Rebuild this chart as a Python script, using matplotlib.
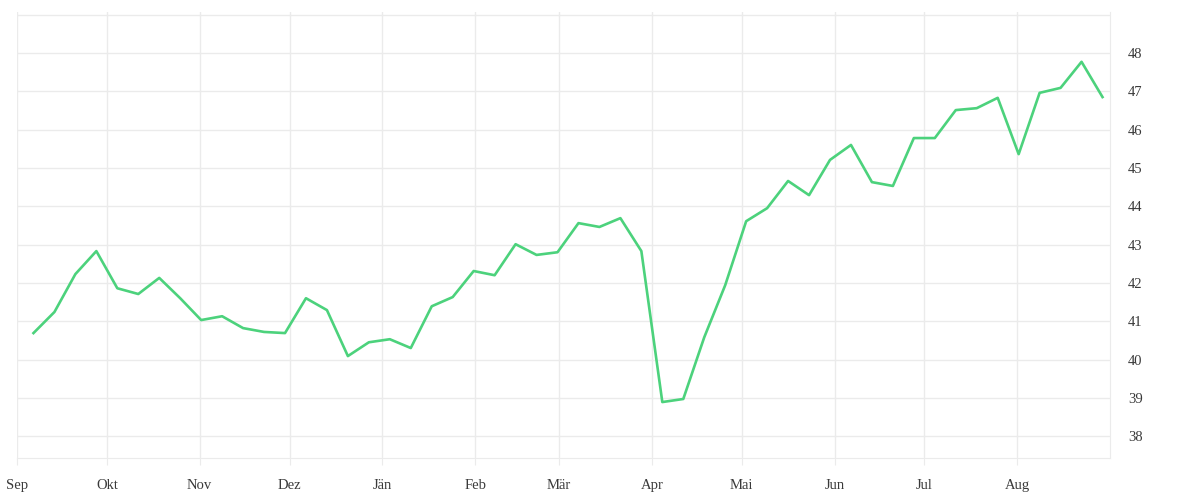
import matplotlib
matplotlib.use("Agg")
import matplotlib.pyplot as plt
import pandas as pd

# weekly values, Sep 2018 - Aug 2019
values = [40.69, 41.24, 42.23, 42.83, 41.86, 41.71, 42.13, 41.60, 41.03, 41.13,
          40.82, 40.72, 40.69, 41.60, 41.29, 40.09, 40.45, 40.53, 40.30, 41.39,
          41.63, 42.31, 42.20, 43.01, 42.73, 42.80, 43.56, 43.46, 43.69, 42.83,
          38.89, 38.97, 40.58, 41.94, 43.61, 43.95, 44.66, 44.29, 45.21, 45.60,
          44.63, 44.53, 45.78, 45.78, 46.51, 46.56, 46.83, 45.36, 46.96, 47.09,
          47.77, 46.85]
dates = pd.date_range("2018-09-06 12:00", periods=len(values), freq="7D")

month_starts = pd.date_range("2018-09-01", periods=12, freq="MS")
month_labels = ["Sep", "Okt", "Nov", "Dez", "Jän", "Feb", "Mär", "Apr",
                "Mai", "Jun", "Jul", "Aug"]
y_ticks = list(range(38, 50))

grid_col = "#ebebeb"
text_col = "#3a3a3a"

fig = plt.figure(figsize=(12, 5), dpi=100)
ax = fig.add_axes([17 / 1200, 42 / 500, 1093 / 1200, 446 / 500])

ax.plot(dates, values, color="#4cd27c", linewidth=1.9)

ax.set_xlim(pd.Timestamp("2018-09-01"), pd.Timestamp("2019-09-01"))
ax.set_ylim(37.43, 49.07)

ax.set_xticks(month_starts)
ax.set_xticklabels(month_labels)
ax.set_yticks(y_ticks)
ax.set_yticklabels([str(t) if t < 49 else "" for t in y_ticks])

ax.yaxis.tick_right()
ax.grid(True, color=grid_col, linewidth=1)
ax.set_axisbelow(True)

for side in ["top", "left"]:
    ax.spines[side].set_visible(False)
ax.spines["bottom"].set_color(grid_col)
ax.spines["right"].set_color(grid_col)

ax.tick_params(axis="x", length=5, color=grid_col, pad=10,
               labelsize=10.5, labelcolor=text_col)
ax.tick_params(axis="y", length=0, pad=13, labelsize=10.5, labelcolor=text_col)
for lab in ax.get_xticklabels() + ax.get_yticklabels():
    lab.set_fontfamily("Liberation Serif")

fig.savefig("out.png", dpi=100)
plt.close(fig)
